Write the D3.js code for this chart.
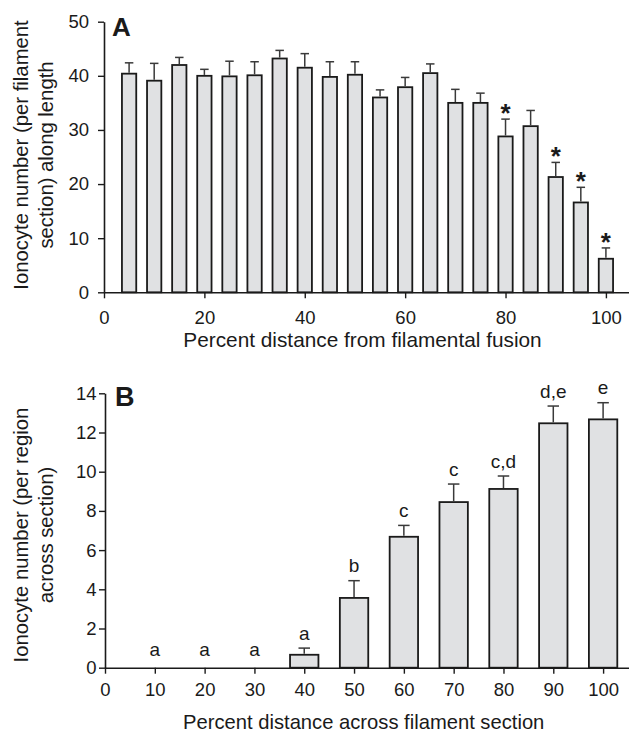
<!DOCTYPE html>
<html>
<head>
<meta charset="utf-8">
<script src="https://cdn.jsdelivr.net/npm/d3@7/dist/d3.min.js"></script>
<style>
  html, body { margin: 0; padding: 0; background: #fff; }
  svg { display: block; }
  text { font-family: "Liberation Sans", Arial, Helvetica, sans-serif; fill: #1a1a1a; }
</style>
</head>
<body>
<script>
// ---------- Data: panel A ----------
const positionsA = [5, 10, 15, 20, 25, 30, 35, 40, 45, 50, 55, 60, 65, 70, 75, 80, 85, 90, 95, 100];
const meansA = [40.4, 39.1, 42.0, 40.0, 39.9, 40.1, 43.2, 41.5, 39.8, 40.2, 36.0, 37.9, 40.5, 35.0, 35.0, 28.8, 30.7, 21.3, 16.6, 6.2];
const semA = [2.0, 3.2, 1.4, 1.2, 2.8, 2.5, 1.5, 2.6, 2.8, 2.4, 1.4, 1.8, 1.7, 2.5, 1.8, 3.2, 2.9, 2.7, 2.8, 2.0];
const markA = ["", "", "", "", "", "", "", "", "", "", "", "", "", "", "", "*", "", "*", "*", "*"];
const ticksXA = [0, 20, 40, 60, 80, 100];
const ticksYA = [0, 10, 20, 30, 40, 50];

// ---------- Data: panel B ----------
const positionsB = [10, 20, 30, 40, 50, 60, 70, 80, 90, 100];
const meansB = [0, 0, 0, 0.66, 3.56, 6.68, 8.45, 9.12, 12.47, 12.67];
const semB = [0, 0, 0, 0.34, 0.88, 0.58, 0.92, 0.66, 0.88, 0.85];
const lettersB = ["a", "a", "a", "a", "b", "c", "c", "c,d", "d,e", "e"];
const ticksXB = [0, 10, 20, 30, 40, 50, 60, 70, 80, 90, 100];
const ticksYB = [0, 2, 4, 6, 8, 10, 12, 14];

const W = 629, H = 732;
const INK = "#1a1a1a", ERR = "#3a3a3a", FILL = "#e0e1e3";
const FONT = '"Liberation Sans", Arial, Helvetica, sans-serif';

const svg = d3.select("body").append("svg").attr("width", W).attr("height", H);

function panel(cfg) {
  const g = svg.append("g");
  const x = d3.scaleLinear().domain(cfg.xDomain).range(cfg.xRange);
  const y = d3.scaleLinear().domain(cfg.yDomain).range(cfg.yRange);
  const data = cfg.pos.map((p, i) => ({p, m: cfg.means[i], e: cfg.sem[i], lab: cfg.labels[i]}));

  // bars
  g.selectAll("rect.bar").data(data.filter(d => d.m > 0)).join("rect")
    .attr("class", "bar")
    .attr("x", d => x(d.p - cfg.barW / 2))
    .attr("width", d => x(d.p + cfg.barW / 2) - x(d.p - cfg.barW / 2))
    .attr("y", d => y(d.m))
    .attr("height", d => y(0) - y(d.m))
    .attr("fill", FILL).attr("stroke", INK).attr("stroke-width", 1.8);

  // error bars (upper)
  const eb = data.filter(d => d.e > 0);
  g.selectAll("line.ev").data(eb).join("line")
    .attr("x1", d => x(d.p)).attr("x2", d => x(d.p))
    .attr("y1", d => y(d.m) - 0.9).attr("y2", d => y(d.m + d.e))
    .attr("stroke", ERR).attr("stroke-width", 1.5);
  g.selectAll("line.ec").data(eb).join("line")
    .attr("x1", d => x(d.p) - cfg.capW / 2).attr("x2", d => x(d.p) + cfg.capW / 2)
    .attr("y1", d => y(d.m + d.e)).attr("y2", d => y(d.m + d.e))
    .attr("stroke", ERR).attr("stroke-width", 1.5);

  // annotations
  g.selectAll("text.lab").data(data.filter(d => d.lab)).join("text")
    .attr("x", d => x(d.p))
    .attr("y", d => cfg.labY(y, d))
    .attr("text-anchor", "middle")
    .style("font-size", cfg.labSize + "px")
    .style("font-weight", cfg.labBold ? "bold" : "normal")
    .text(d => d.lab);

  // axes
  const yAxis = d3.axisLeft(y).tickValues(cfg.yTicks).tickSize(6).tickPadding(cfg.yPad).tickSizeOuter(0);
  const xAxis = d3.axisBottom(x).tickValues(cfg.xTicks).tickSize(6).tickPadding(cfg.xPad).tickSizeOuter(0);
  const ga = g.append("g").attr("transform", `translate(${cfg.xRange[0]},0)`).call(yAxis);
  const gb = g.append("g").attr("transform", `translate(0,${cfg.yRange[0]})`).call(xAxis);
  [ga, gb].forEach(a => {
    a.select(".domain").attr("stroke", INK).attr("stroke-width", 1.6);
    a.selectAll(".tick line").attr("stroke", INK).attr("stroke-width", 1.4);
    a.selectAll(".tick text").attr("fill", INK).style("font-size", "18.5px").style("font-family", FONT);
  });

  // axis titles
  g.append("text").attr("x", cfg.xTitleX).attr("y", cfg.xTitleY).attr("text-anchor", "middle")
    .style("font-size", cfg.xTitleSize + "px").text(cfg.xTitle);
  cfg.yTitle.forEach((t, i) => {
    g.append("text")
      .attr("transform", `translate(${cfg.yTitleX[i]},${cfg.yTitleCY}) rotate(-90)`)
      .attr("text-anchor", "middle").style("font-size", "20.3px").text(t);
  });
  // panel letter
  g.append("text").attr("x", cfg.letterX).attr("y", cfg.letterY)
    .style("font-size", cfg.letterSize + "px").style("font-weight", "bold").text(cfg.letter);
}

panel({
  pos: positionsA, means: meansA, sem: semA, labels: markA,
  xDomain: [0, 104.6], xRange: [104, 629], yDomain: [0, 50], yRange: [292.3, 21.7],
  barW: 2.85, capW: 8.5, xTicks: ticksXA, yTicks: ticksYA, yPad: 9, xPad: 12.9,
  labSize: 26, labBold: true, labY: (y, d) => y(d.m + d.e) + 3,
  xTitle: "Percent distance from filamental fusion", xTitleX: 362.5, xTitleY: 347, xTitleSize: 20.8,
  yTitle: ["Ionocyte number (per filament", "section) along length"], yTitleX: [28.3, 53], yTitleCY: 155,
  letter: "A", letterX: 112, letterY: 36, letterSize: 26
});

panel({
  pos: positionsB, means: meansB, sem: semB, labels: lettersB,
  xDomain: [0, 105.2], xRange: [105, 629], yDomain: [0, 14], yRange: [667.7, 393.3],
  barW: 5.7, capW: 11.5, xTicks: ticksXB, yTicks: ticksYB, yPad: 2.5, xPad: 9.6,
  labSize: 19, labBold: false, labY: (y, d) => Math.min(y(d.m + d.e) - 8.5, y(0) - 12),
  xTitle: "Percent distance across filament section", xTitleX: 363.7, xTitleY: 729, xTitleSize: 20.2,
  yTitle: ["Ionocyte number (per region", "across section)"], yTitleX: [28.3, 53.3], yTitleCY: 535,
  letter: "B", letterX: 115, letterY: 405.7, letterSize: 27
});
</script>
</body>
</html>
